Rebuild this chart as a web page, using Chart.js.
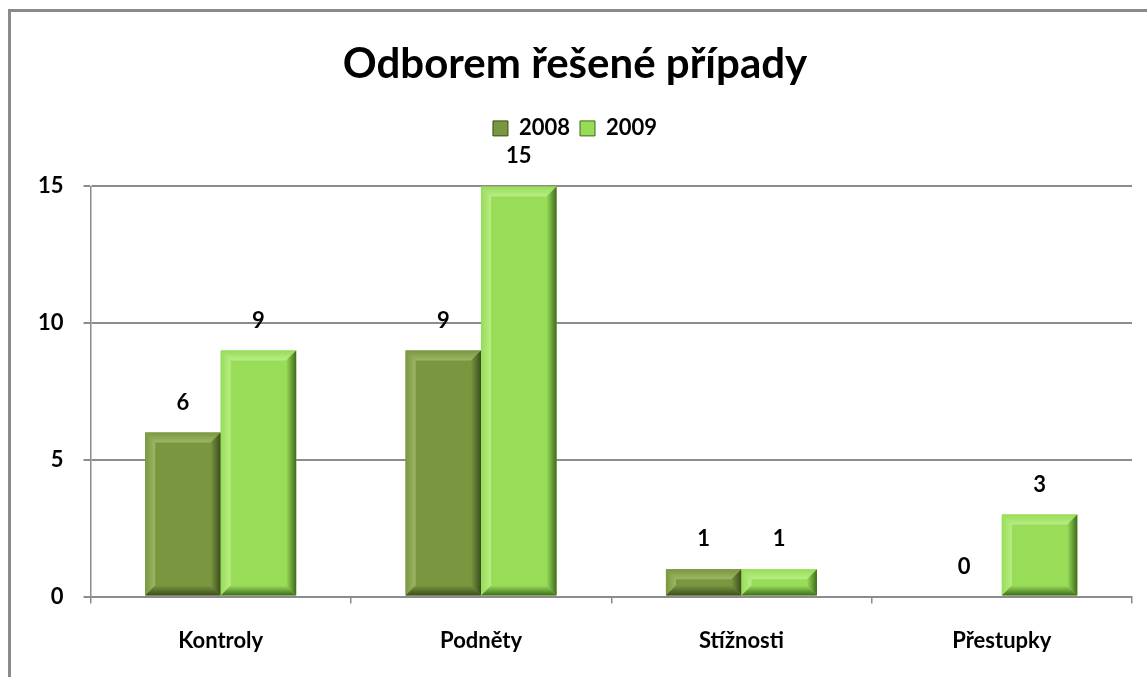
<!DOCTYPE html>
<html>
<head>
<meta charset="utf-8">
<script src="https://cdn.jsdelivr.net/npm/chart.js@4"></script>
<style>
    html, body { margin: 0; padding: 0; background: #fff; }
    #wrap { position: relative; width: 1147px; height: 677px; overflow: hidden; }
    #frame { position: absolute; left: 8px; top: 9px; width: 1200px; height: 700px;
             border-top: 3px solid #8a8a8a; border-left: 3px solid #8a8a8a; }
    canvas { position: absolute; left: 0; top: 0; }
</style>
</head>
<body>
<div id="wrap">
    <div id="frame"></div>
    <canvas id="chart" width="1147" height="677"></canvas>
</div>
<script>
const categories = ['Kontroly', 'Podněty', 'Stížnosti', 'Přestupky'];
const years = ['2008', '2009'];
const values2008 = [6, 9, 1, 0];
const values2009 = [9, 15, 1, 3];
const yTicks = [0, 5, 10, 15];

const FONT = 'Lato, "Open Sans", sans-serif';

// face / light / dark shades for each series
const palette = [
    { face: '#7a963e', light: '#9cb866', dark: '#3a4c1c' },
    { face: '#98dc58', light: '#b8ee86', dark: '#3f6a1c' }
];

// --- Bevel drawing for the bars ---
const bevelPlugin = {
    id: 'bevel',
    afterDatasetsDraw(chart) {
        const ctx = chart.ctx;
        chart.data.datasets.forEach((ds, di) => {
            const meta = chart.getDatasetMeta(di);
            const col = palette[di];
            meta.data.forEach(bar => {
                const p = bar.getProps(['x', 'y', 'base', 'width'], true);
                const l = p.x - p.width / 2, r = p.x + p.width / 2;
                const t = Math.min(p.y, p.base), b = Math.max(p.y, p.base);
                if (b - t < 1) return;
                const bv = Math.min(10, (b - t) / 2);
                const poly = (pts, fill) => {
                    ctx.beginPath();
                    ctx.moveTo(pts[0][0], pts[0][1]);
                    pts.slice(1).forEach(q => ctx.lineTo(q[0], q[1]));
                    ctx.closePath();
                    ctx.fillStyle = fill;
                    ctx.fill();
                };
                ctx.save();
                // top edge
                let g = ctx.createLinearGradient(0, t, 0, t + bv);
                g.addColorStop(0, col.face);
                g.addColorStop(1, col.light);
                poly([[l, t], [r, t], [r - bv, t + bv], [l + bv, t + bv]], g);
                // left edge
                g = ctx.createLinearGradient(l, 0, l + bv, 0);
                g.addColorStop(0, col.face);
                g.addColorStop(1, col.light);
                poly([[l, t], [l + bv, t + bv], [l + bv, b - bv], [l, b]], g);
                // right edge
                g = ctx.createLinearGradient(r - bv, 0, r, 0);
                g.addColorStop(0, col.face);
                g.addColorStop(1, col.dark);
                poly([[r, t], [r, b], [r - bv, b - bv], [r - bv, t + bv]], g);
                // bottom edge
                g = ctx.createLinearGradient(0, b - bv, 0, b);
                g.addColorStop(0, col.face);
                g.addColorStop(1, col.dark);
                poly([[l, b], [r, b], [r - bv, b - bv], [l + bv, b - bv]], g);
                ctx.restore();
            });
        });
    }
};

// --- Value labels above bars ---
const valueLabels = {
    id: 'valueLabels',
    afterDatasetsDraw(chart) {
        const ctx = chart.ctx;
        ctx.save();
        ctx.font = 'bold 22px ' + FONT;
        ctx.fillStyle = '#000';
        ctx.textAlign = 'center';
        ctx.textBaseline = 'middle';
        chart.data.datasets.forEach((ds, di) => {
            chart.getDatasetMeta(di).data.forEach((bar, i) => {
                ctx.fillText(ds.data[i], bar.x, bar.y - 30);
            });
        });
        ctx.restore();
    }
};

// extra space under the legend
const legendGap = {
    id: 'legendGap',
    beforeInit(chart) {
        const fit = chart.legend.fit;
        chart.legend.fit = function () {
            fit.bind(chart.legend)();
            this.height += 37;
        };
    }
};

new Chart(document.getElementById('chart'), {
    type: 'bar',
    data: {
        labels: categories,
        datasets: [
            { label: years[0], data: values2008, backgroundColor: palette[0].face },
            { label: years[1], data: values2009, backgroundColor: palette[1].face }
        ]
    },
    options: {
        responsive: false,
        animation: false,
        events: [],
        categoryPercentage: 0.58,
        barPercentage: 1,
        layout: { padding: { left: 18, right: 15, top: 0, bottom: -1 } },
        scales: {
            x: {
                grid: { drawOnChartArea: false, drawTicks: true, tickLength: 7, color: '#8c8c8c', lineWidth: 1.5 },
                border: { color: '#8c8c8c', width: 2 },
                ticks: { color: '#000', font: { family: FONT, size: 22, weight: 'bold' }, padding: 24 }
            },
            y: {
                min: 0, max: 15,
                afterBuildTicks(axis) { axis.ticks = yTicks.map(v => ({ value: v })); },
                grid: { color: '#8c8c8c', lineWidth: 2, tickLength: 7 },
                border: { color: '#8c8c8c', width: 1.5 },
                ticks: { color: '#000', font: { family: FONT, size: 22, weight: 'bold' }, padding: 20 }
            }
        },
        plugins: {
            title: {
                display: true,
                text: 'Odborem řešené případy',
                color: '#000',
                font: { family: FONT, size: 42, weight: 'bold' },
                padding: { top: 39, bottom: 18 }
            },
            legend: {
                labels: {
                    color: '#000',
                    font: { family: FONT, size: 22, weight: 'bold' },
                    boxWidth: 15, boxHeight: 15,
                    padding: 10,
                    generateLabels(chart) {
                        return chart.data.datasets.map((ds, i) => ({
                            text: ds.label,
                            fillStyle: palette[i].face,
                            strokeStyle: palette[i].dark,
                            lineWidth: 1,
                            datasetIndex: i
                        }));
                    }
                }
            },
            tooltip: { enabled: false }
        }
    },
    plugins: [bevelPlugin, valueLabels, legendGap]
});
</script>
</body>
</html>
